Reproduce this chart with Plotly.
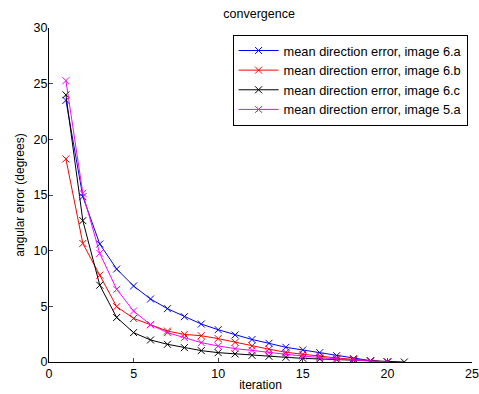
import plotly.graph_objects as go

iters_a = list(range(1, 21))
iters_c = list(range(1, 22))

err_6a = [23.5, 14.85, 10.6, 8.35, 6.83, 5.66, 4.79, 4.07, 3.41, 2.9, 2.43, 2.02, 1.68, 1.32, 1.08, 0.84, 0.57, 0.3, 0.12, 0.0]
err_6b = [18.24, 10.65, 7.8, 4.97, 3.92, 3.35, 2.78, 2.48, 2.36, 2.1, 1.77, 1.45, 1.15, 0.87, 0.69, 0.54, 0.36, 0.24, 0.1, 0.0]
err_6c = [24.0, 12.7, 6.9, 4.0, 2.64, 1.98, 1.59, 1.29, 1.02, 0.84, 0.72, 0.6, 0.51, 0.42, 0.33, 0.27, 0.2, 0.13, 0.06, 0.0, 0.0]
err_5a = [25.27, 15.15, 9.76, 6.53, 4.58, 3.35, 2.64, 2.19, 1.74, 1.44, 1.2, 1.04, 0.84, 0.69, 0.54, 0.39, 0.27, 0.18, 0.06, 0.0]

series = [
    ("mean direction error, image 6.a", iters_a, err_6a, "#0000ff"),
    ("mean direction error, image 6.b", iters_a, err_6b, "#ff0000"),
    ("mean direction error, image 6.c", iters_c, err_6c, "#000000"),
    ("mean direction error, image 5.a", iters_a, err_5a, "#ff00ff"),
]

FONT = "Liberation Sans, Arial, Helvetica, sans-serif"

fig = go.Figure()
for name, xs, ys, col in series:
    fig.add_trace(go.Scatter(
        x=xs, y=ys, name=name, mode="lines+markers",
        line=dict(color=col, width=1),
        marker=dict(symbol="x-thin", size=7, line=dict(color=col, width=1), color=col),
    ))

fig.update_layout(
    width=479, height=394,
    margin=dict(l=49, r=7, t=28, b=32, autoexpand=False),
    paper_bgcolor="white", plot_bgcolor="white",
    font=dict(family=FONT, size=12, color="#000000"),
    title=dict(text="convergence", x=0.541, xanchor="center", yref="container", y=1.0,
               yanchor="top", pad=dict(t=9, b=0),
               font=dict(size=12.5, family=FONT)),
    xaxis=dict(range=[0, 25], tickvals=[0, 5, 10, 15, 20, 25], ticks="inside", ticklen=4,
               showline=True, linecolor="black", linewidth=1, showgrid=False, zeroline=False,
               automargin=False, ticklabeloverflow="allow",
               title=dict(text="iteration", standoff=0, font=dict(size=12)),
               tickfont=dict(size=12.5)),
    yaxis=dict(range=[0, 30], tickvals=[0, 5, 10, 15, 20, 25, 30], ticks="inside", ticklen=4,
               showline=True, linecolor="black", linewidth=1, showgrid=False, zeroline=False,
               automargin=False, ticklabelstandoff=-2, ticklabeloverflow="allow",
               title=dict(text="angular error (degrees)", standoff=6, font=dict(size=12)),
               tickfont=dict(size=12.5)),
    legend=dict(x=0.434, y=0.98, xanchor="left", yanchor="top",
                bordercolor="black", borderwidth=1, bgcolor="white",
                font=dict(size=12.8, family=FONT), tracegroupgap=0, itemwidth=40),
    showlegend=True,
)

# Remove the browser's default body margin so the figure fills the window exactly.
fig.write_html(
    "out.html",
    config={"displayModeBar": False},
    post_script="document.body.style.margin='0px';document.body.style.overflow='hidden';",
)
